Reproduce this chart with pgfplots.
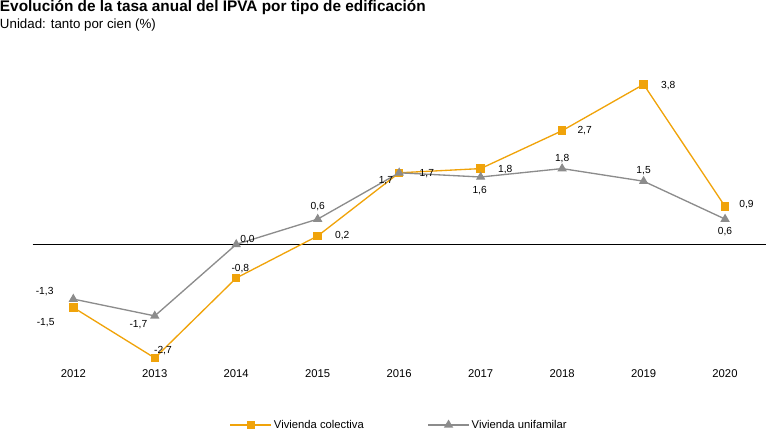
\documentclass[border=0pt]{standalone}
\usepackage{pgfplots}
\pgfplotsset{compat=1.18}
\usepackage{fontspec}
\setmainfont{Liberation Sans}
\definecolor{oc}{HTML}{F0A30A}
\definecolor{gc}{HTML}{8C8C8C}
\begin{document}
\begin{tikzpicture}
\begin{axis}[scale only axis, width=716pt, height=283.6pt,
 xmin=2011.5, xmax=2020.5, ymin=-2.9, ymax=4.0,
 axis x line*=bottom, axis y line=none, x axis line style={draw=none},
 xtick={2012,...,2020}, xticklabel style={/pgf/number format/1000 sep={}, font=\fontsize{11}{13}\selectfont},
 /pgf/number format/assume math mode=true,
 major tick length=0pt, clip=false,
 legend style={at={(0.5,-0.17)}, anchor=north, draw=none, legend columns=2, font=\fontsize{11}{13}\selectfont, /tikz/every even column/.append style={column sep=60pt}},
 legend image code/.code={\draw[#1] (0pt,0pt)--(40pt,0pt); \draw[#1,mark repeat=1] plot coordinates {(20pt,0pt)};},
 every node/.append style={font=\fontsize{11}{13}\selectfont}]
\draw[black,thin] (axis cs:2011.5,0)--(axis cs:2020.5,0);
\addplot[oc, line width=1.3pt, mark=square*, mark size=3.5pt, mark options={fill=oc}] coordinates {(2012,-1.5)(2013,-2.7)(2014,-0.8)(2015,0.2)(2016,1.7)(2017,1.8)(2018,2.7)(2019,3.8)(2020,0.9)};
\addlegendentry{Vivienda colectiva}
\addplot[gc, line width=1.3pt, mark=triangle*, mark size=4pt, mark options={fill=gc}] coordinates {(2012,-1.3)(2013,-1.7)(2014,0.0)(2015,0.6)(2016,1.7)(2017,1.6)(2018,1.8)(2019,1.5)(2020,0.6)};
\addlegendentry{Vivienda unifamilar}
\node at (axis cs:2012,-1.5) [xshift=-27pt,yshift=-15pt] {-1,5};
\node at (axis cs:2013,-2.7) [xshift=8pt,yshift=7pt] {-2,7};
\node at (axis cs:2014,-0.8) [xshift=4pt,yshift=9pt] {-0,8};
\node at (axis cs:2015,0.2) [xshift=24pt,yshift=0pt] {0,2};
\node at (axis cs:2016,1.7) [xshift=-13pt,yshift=-8pt] {1,7};
\node at (axis cs:2016,1.7) [xshift=27pt,yshift=-1pt] {1,7};
\node at (axis cs:2017,1.8) [xshift=24pt,yshift=-1pt] {1,8};
\node at (axis cs:2018,2.7) [xshift=22pt,yshift=0pt] {2,7};
\node at (axis cs:2019,3.8) [xshift=24pt,yshift=-1pt] {3,8};
\node at (axis cs:2020,0.9) [xshift=21pt,yshift=2pt] {0,9};
\node at (axis cs:2012,-1.3) [xshift=-28pt,yshift=7pt] {-1,3};
\node at (axis cs:2013,-1.7) [xshift=-16pt,yshift=-9pt] {-1,7};
\node at (axis cs:2014,0.0) [xshift=11pt,yshift=5pt] {0,0};
\node at (axis cs:2015,0.6) [xshift=0pt,yshift=12pt] {0,6};
\node at (axis cs:2017,1.6) [xshift=-1pt,yshift=-13pt] {1,6};
\node at (axis cs:2018,1.8) [xshift=0pt,yshift=10pt] {1,8};
\node at (axis cs:2019,1.5) [xshift=0pt,yshift=10pt] {1,5};
\node at (axis cs:2020,0.6) [xshift=0pt,yshift=-12pt] {0,6};
\end{axis}
\node[anchor=north west, inner sep=0pt, font=\bfseries\fontsize{15}{18}\selectfont] at (-32pt,358pt) {Evolución de la tasa anual del IPVA por tipo de edificación};
\node[anchor=north west, inner sep=0pt, font=\fontsize{13}{16}\selectfont] at (-32pt,340pt) {Unidad: tanto por cien (\%)};
\end{tikzpicture}
\end{document}
